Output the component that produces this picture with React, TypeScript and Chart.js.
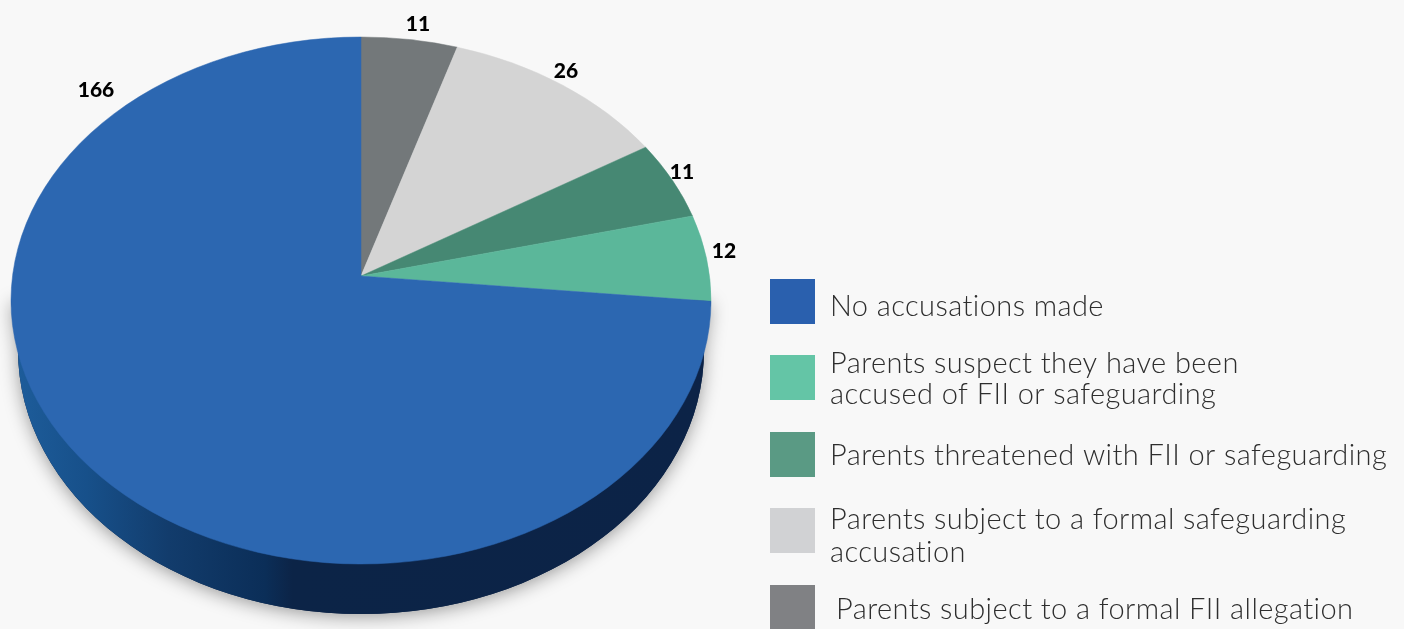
import React, { useEffect, useRef } from "react";
import { Chart, registerables } from "chart.js";

Chart.register(...registerables);

const categories = [
  "Parents subject to a formal FII allegation",
  "Parents subject to a formal safeguarding accusation",
  "Parents threatened with FII or safeguarding",
  "Parents suspect they have been accused of FII or safeguarding",
  "No accusations made",
];
const values = [11, 26, 11, 12, 166];
const sliceColors = ["#73787a", "#d4d4d4", "#468873", "#5bb79a", "#2c67b1"];
const legendColors = ["#808184", "#d1d2d4", "#5a9a84", "#64c5a6", "#2a60ae"];
const legendLines = [
  ["Parents subject to a formal FII allegation"],
  ["Parents subject to a formal safeguarding", "accusation"],
  ["Parents threatened with FII or safeguarding"],
  ["Parents suspect they have been", "accused of FII or safeguarding"],
  ["No accusations made"],
];

// layout of annotations (not data)
const LABEL_POS = [[418, 24], [566, 71], [682, 172], [724, 251], [96, 90]];
const LEGEND_BOX_Y = [585, 508, 432, 355, 279];
const LEGEND_TEXT_X = [836, 830, 830, 830, 830];
const LEGEND_BASE_Y = [[619], [529, 562], [465], [373, 404], [316]];

const ASPECT = 350 / 263.5;
const APEX_UP = 24.5 / 263.5;
const K = 0.91;
const WALL_DEPTH = 50 / 263.5;
const WALL_RX = 343 / 263.5;

const pieMap = (a: number) => {
  const th = a + Math.PI / 2;
  const t = 2 * Math.atan2(K * Math.sin(th / 2), Math.cos(th / 2));
  return t - Math.PI / 2;
};

const perspectivePlugin = {
  id: "perspective",
  beforeDatasetDraw(chart: any) {
    const ctx = chart.ctx;
    const arcs = chart.getDatasetMeta(0).data;
    const { x: cx, y: cy, outerRadius: r } = arcs[0];
    const rx = r * ASPECT;
    const wallY = cy + r * WALL_DEPTH;
    const wallRx = r * WALL_RX;

    // drop shadow and side wall
    const wallPath = () => {
      ctx.beginPath();
      ctx.moveTo(cx - rx, cy);
      ctx.lineTo(cx - wallRx, wallY);
      ctx.ellipse(cx, wallY, wallRx, r, 0, Math.PI, 0, true);
      ctx.lineTo(cx + rx, cy);
      ctx.closePath();
    };
    const g = ctx.createLinearGradient(cx - wallRx, 0, cx + wallRx, 0);
    g.addColorStop(0, "#1d5c9a");
    g.addColorStop(0.1, "#17508a");
    g.addColorStop(0.22, "#123c6c");
    g.addColorStop(0.36, "#0b2e58");
    g.addColorStop(0.4, "#0c2447");
    g.addColorStop(1, "#0c2347");
    ctx.save();
    ctx.shadowColor = "rgba(0,0,0,0.38)";
    ctx.shadowBlur = 18;
    ctx.shadowOffsetY = 3;
    ctx.fillStyle = "#0c2347";
    wallPath();
    ctx.fill();
    ctx.restore();
    ctx.fillStyle = g;
    wallPath();
    ctx.fill();

    // top face, from the arcs computed by the library
    arcs.forEach((arc: any, i: number) => {
      const a0 = pieMap(arc.startAngle);
      const a1 = pieMap(arc.endAngle);
      ctx.beginPath();
      ctx.moveTo(cx, cy - r * APEX_UP);
      ctx.ellipse(cx, cy, rx, r, 0, a0, a1);
      ctx.closePath();
      ctx.fillStyle = sliceColors[i];
      ctx.strokeStyle = sliceColors[i];
      ctx.lineWidth = 0.5;
      ctx.fill();
      ctx.stroke();
    });
    return false;
  },
  afterDraw(chart: any) {
    const ctx = chart.ctx;
    ctx.save();
    ctx.textBaseline = "middle";
    ctx.textAlign = "center";
    ctx.fillStyle = "#000";
    ctx.font = "900 21px Lato";
    chart.data.datasets[0].data.forEach((v: number, i: number) => {
      ctx.fillText(String(v), LABEL_POS[i][0], LABEL_POS[i][1]);
    });
    ctx.textBaseline = "alphabetic";
    ctx.textAlign = "left";
    legendLines.forEach((lines, i) => {
      ctx.fillStyle = legendColors[i];
      ctx.fillRect(770, LEGEND_BOX_Y[i], 45, 45);
      ctx.fillStyle = "#2e2e2e";
      ctx.font = "300 29px Lato";
      (ctx as any).letterSpacing = "0.42px";
      lines.forEach((line, j) => {
        ctx.fillText(line, LEGEND_TEXT_X[i], LEGEND_BASE_Y[i][j]);
      });
      (ctx as any).letterSpacing = "0px";
    });
    ctx.restore();
  },
};

export default function App() {
  const ref = useRef<HTMLCanvasElement>(null);
  useEffect(() => {
    document.body.style.margin = "0";
    document.body.style.background = "#f8f8f8";
    const chart = new Chart(ref.current!, {
      type: "pie",
      data: {
        labels: categories,
        datasets: [{ data: values, backgroundColor: sliceColors, borderWidth: 0 }],
      },
      options: {
        responsive: false,
        animation: false,
        layout: { padding: { left: 97.5, right: 779.5, top: 37, bottom: 65 } },
        plugins: { legend: { display: false }, tooltip: { enabled: false } },
      },
      plugins: [perspectivePlugin],
    } as any);
    return () => chart.destroy();
  }, []);
  return (
    <canvas
      ref={ref}
      width={1404}
      height={629}
      style={{ display: "block", width: 1404, height: 629, background: "#f8f8f8" }}
    />
  );
}
